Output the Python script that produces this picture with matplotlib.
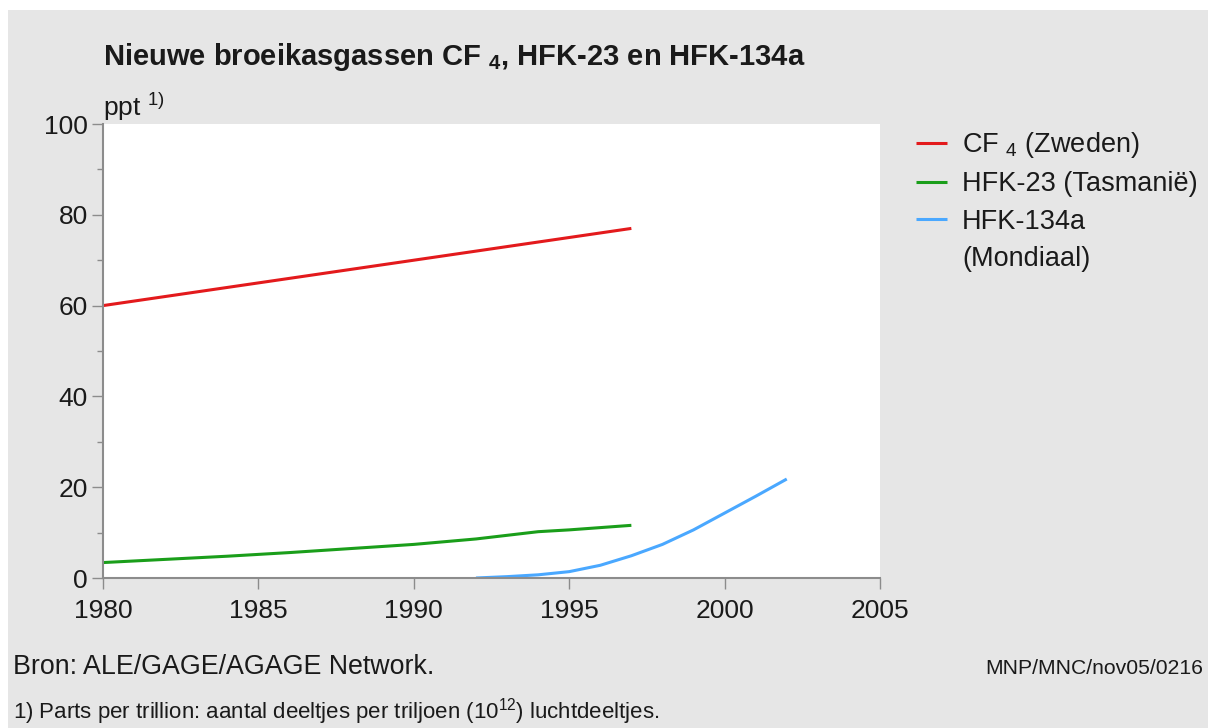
import matplotlib
matplotlib.use("Agg")
import matplotlib.pyplot as plt
from matplotlib.patches import Rectangle
from matplotlib.lines import Line2D

plt.rcParams['font.family'] = ['Liberation Sans', 'DejaVu Sans']
plt.rcParams['mathtext.fontset'] = 'custom'
plt.rcParams['mathtext.rm'] = 'Liberation Sans'
plt.rcParams['mathtext.it'] = 'Liberation Sans'
plt.rcParams['mathtext.bf'] = 'Liberation Sans:bold'

# Data
cf4_years = [1980, 1997]
cf4_vals = [60, 77]
hfk23_years = [1980, 1984, 1986, 1988, 1990, 1992, 1993, 1994, 1995, 1996, 1997]
hfk23_vals = [3.4, 4.8, 5.6, 6.5, 7.4, 8.6, 9.4, 10.2, 10.6, 11.1, 11.6]
hfk134_years = [1992, 1993, 1994, 1995, 1996, 1997, 1998, 1999, 2000, 2001, 2002]
hfk134_vals = [0.0, 0.3, 0.7, 1.4, 2.8, 4.9, 7.4, 10.6, 14.3, 18.0, 21.8]

x_ticks = [1980, 1985, 1990, 1995, 2000, 2005]
y_ticks = [0, 20, 40, 60, 80, 100]

title = r"Nieuwe broeikasgassen CF $_{\mathbf{4}}$, HFK-23 en HFK-134a"
labels = [r"CF $_4$ (Zweden)", "HFK-23 (Tasmanië)", "HFK-134a", "(Mondiaal)"]
colors = ["#e31a1c", "#1a9e1a", "#4aa8ff"]
text_color = '#1a1a1a'

W, H = 1208, 728
fig = plt.figure(figsize=(W / 100, H / 100), dpi=100, facecolor='white')
fig.patches.append(Rectangle((8 / W, 0), 1 - 8 / W, 1 - 10 / H, transform=fig.transFigure,
                             facecolor='#e6e6e6', edgecolor='none', zorder=-10))

ax = fig.add_axes([103 / W, 1 - 578 / H, (880 - 103) / W, (578 - 124) / H])
ax.set_facecolor('white')

l1, = ax.plot(cf4_years, cf4_vals, color=colors[0], lw=2.2, solid_capstyle='butt')
l2, = ax.plot(hfk23_years, hfk23_vals, color=colors[1], lw=2.2, solid_capstyle='butt')
l3, = ax.plot(hfk134_years, hfk134_vals, color=colors[2], lw=2.2, solid_capstyle='butt')
blank = Line2D([], [], color='none')

ax.set_xlim(1980, 2005)
ax.set_ylim(0, 100)
ax.set_xticks(x_ticks)
ax.set_yticks(y_ticks)
ax.set_yticks([10, 30, 50, 70, 90], minor=True)
for s in ['top', 'right']:
    ax.spines[s].set_visible(False)
for s in ['left', 'bottom']:
    ax.spines[s].set_color('#8c8c8c')
    ax.spines[s].set_linewidth(1.5)
ax.tick_params(axis='both', which='major', direction='out', length=8, width=1, color='#8c8c8c',
               labelsize=19, labelcolor=text_color, pad=3)
ax.tick_params(axis='y', which='minor', direction='out', length=4, width=1, color='#8c8c8c')
ax.tick_params(axis='x', pad=7)

fig.text(103 / W, 1 - 65 / H, title, fontsize=21, fontweight='bold', color=text_color,
         ha='left', va='baseline')
fig.text(103 / W, 1 - 116 / H, r"ppt $^{1)}$", fontsize=19, color=text_color, ha='left', va='baseline')

leg = ax.legend([l1, l2, l3, blank], labels, loc='upper left',
                bbox_to_anchor=(916 / W, 1 - 130 / H), bbox_transform=fig.transFigure,
                frameon=False, fontsize=19.5, handlelength=1.15, handletextpad=0.55,
                labelspacing=0.42, borderaxespad=0, borderpad=0)
for t in leg.get_texts():
    t.set_color(text_color)

fig.text(13 / W, 1 - 667 / H, "Bron: ALE/GAGE/AGAGE Network.", fontsize=19.3, color=text_color,
         ha='left', va='center')
fig.text(1203 / W, 1 - 668 / H, "MNP/MNC/nov05/0216", fontsize=15.2, color=text_color,
         ha='right', va='center')
fig.text(13 / W, 1 - 712 / H, r"1) Parts per trillion: aantal deeltjes per triljoen (10$^{12}$) luchtdeeltjes.",
         fontsize=16, color=text_color, ha='left', va='center')

fig.savefig("out.png", dpi=100, facecolor='white')
